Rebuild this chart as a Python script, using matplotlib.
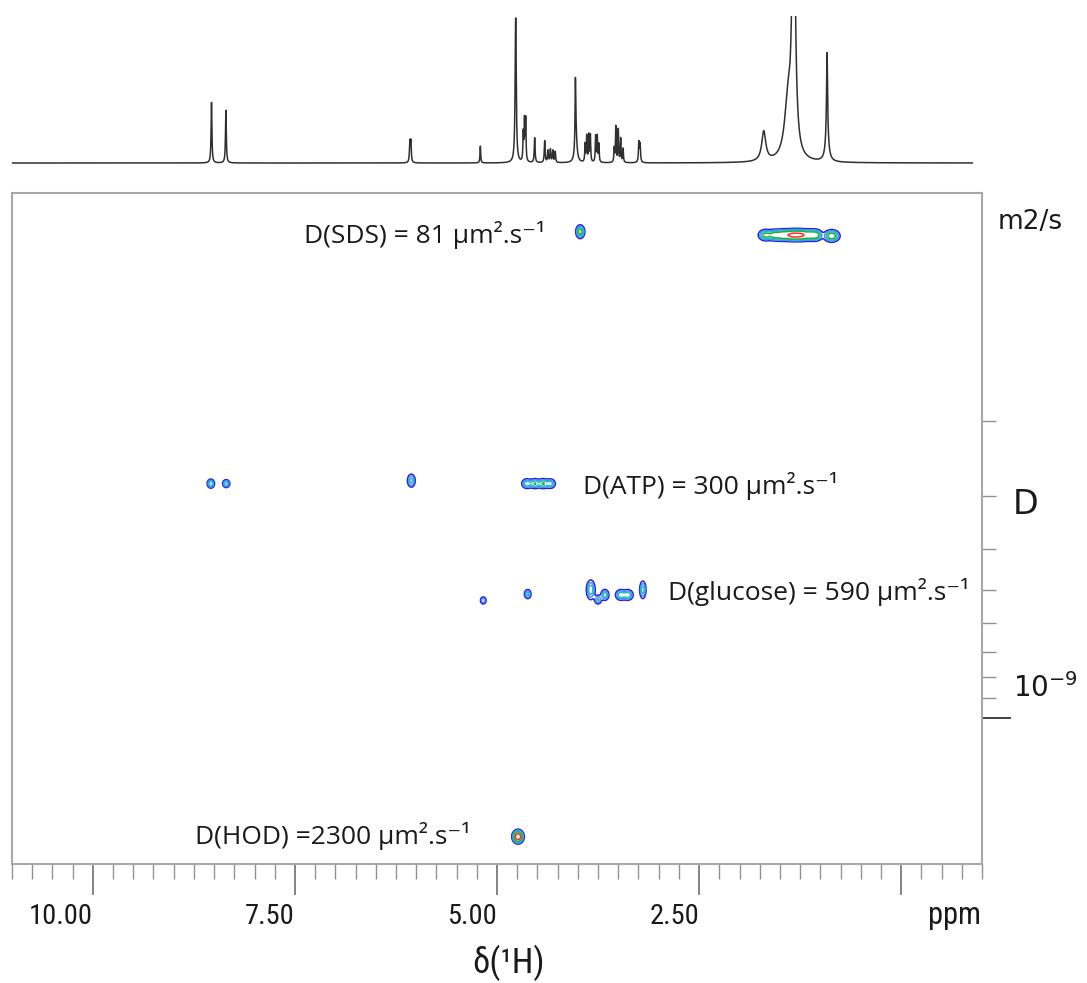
import numpy as np
import matplotlib
matplotlib.use("Agg")
import matplotlib.pyplot as plt
from matplotlib.ticker import FixedLocator, MultipleLocator, NullFormatter, FixedFormatter

# ---------------- data ----------------
# 1D projection: peak positions (ppm), heights (arb.), half-widths (ppm)
peak_ppm = [8.532, 8.354, 6.078, 6.066, 5.206, 4.769,
            4.675, 4.660, 4.645, 4.534, 4.410,
            4.37, 4.34, 4.31, 4.28,
            4.030, 4.024,
            3.91, 3.89, 3.865, 3.845, 3.78, 3.76, 3.74,
            3.55, 3.53, 3.50, 3.47, 3.44,
            3.245, 3.230,
            1.70, 1.40, 1.33, 0.917, 0.917]
peak_height = [61, 53, 20, 20, 17, 146,
               28, 40, 42, 25, 22,
               12, 13, 12, 11,
               62, 28,
               18, 26, 27, 27, 26, 26, 18,
               14, 36, 33, 24, 14,
               20, 18,
               30, 55, 300, 82, 28]
peak_width = [0.006, 0.006, 0.006, 0.006, 0.005, 0.008,
              0.005, 0.005, 0.005, 0.006, 0.006,
              0.006, 0.006, 0.006, 0.006,
              0.005, 0.015,
              0.005, 0.005, 0.005, 0.005, 0.005, 0.005, 0.005,
              0.005, 0.005, 0.005, 0.005, 0.005,
              0.006, 0.006,
              0.030, 0.050, 0.022, 0.007, 0.022]

# DOSY cross peaks: ppm, log10(D / m2 s-1), ppm width, logD width, amplitude
dosy_ppm = [3.97, 1.68, 1.56, 1.45, 1.34, 1.24, 1.13, 1.05, 0.86,
            8.54, 8.35, 6.06, 4.63, 4.53, 4.43, 4.34,
            5.17, 4.62, 3.84, 3.75, 3.665, 3.47, 3.38, 3.196,
            4.74]
dosy_logD = [-10.144, -10.136, -10.136, -10.136, -10.136, -10.136, -10.136, -10.136, -10.134,
             -9.551, -9.551, -9.558, -9.551, -9.551, -9.551, -9.551,
             -9.276, -9.291, -9.301, -9.278, -9.289, -9.289, -9.289, -9.301,
             -8.720]
dosy_sx = [0.028, 0.045, 0.05, 0.05, 0.05, 0.05, 0.05, 0.04, 0.05,
           0.025, 0.025, 0.028, 0.035, 0.035, 0.035, 0.035,
           0.022, 0.024, 0.03, 0.025, 0.028, 0.035, 0.035, 0.022,
           0.032]
dosy_sy = [0.008, 0.0068, 0.0068, 0.0068, 0.0068, 0.0068, 0.0068, 0.0068, 0.0072,
           0.0058, 0.0052, 0.0088, 0.0062, 0.0062, 0.0062, 0.0062,
           0.0052, 0.0062, 0.0125, 0.0062, 0.0072, 0.0068, 0.0068, 0.0115,
           0.0072]
dosy_amp = [0.8, 0.7, 0.8, 1.0, 1.3, 1.2, 0.9, 0.7, 0.9,
            0.55, 0.5, 0.45, 0.55, 0.6, 0.6, 0.5,
            0.35, 0.45, 0.55, 0.4, 0.5, 0.55, 0.55, 0.5,
            2.0]

contour_levels = [0.1, 0.22, 0.38, 0.6, 1.25]
contour_colors = ['#2222dd', '#4a8cf0', '#20c0c0', '#22b040', '#ff2a2a']

x_major = [10.0, 7.5, 5.0, 2.5, 0.0]
x_major_labels = ['10.00', '7.50', '5.00', '2.50', '']
d_minor = [2e-10, 3e-10, 4e-10, 5e-10, 6e-10, 7e-10, 8e-10, 9e-10]
d_major = [1e-9]

labels = ['D(SDS) = 81 µm².s⁻¹', 'D(ATP) = 300 µm².s⁻¹',
          'D(glucose) = 590 µm².s⁻¹', 'D(HOD) =2300 µm².s⁻¹']
label_px = [(304, 235), (583, 486), (668, 592), (195, 836)]

# ---------------- figure ----------------
W, H = 1087, 983
fig = plt.figure(figsize=(W / 100, H / 100), dpi=100)

def fx(px):
    return px / W

def fy(py):
    return 1 - py / H

xlim = (11.0, -1.0)
ylim = (2.21e-9, 5.82e-11)
txtc = '#1a1a1a'
tickfont = ['Liberation Sans Narrow', 'Roboto Condensed', 'Open Sans Condensed',
            'DejaVu Sans Condensed', 'Liberation Sans']

# main DOSY axes
ax = fig.add_axes([fx(12), fy(864), fx(982) - fx(12), fy(193) - fy(864)])
ax.set_xlim(*xlim)
ax.set_yscale('log')
ax.set_ylim(*ylim)

gx = np.linspace(11.0, -1.0, 2400)
gy = np.linspace(np.log10(5.82e-11), np.log10(2.21e-9), 1400)
GX, GY = np.meshgrid(gx, gy)
Z = np.zeros_like(GX)
for p, l, sx, sy, a in zip(dosy_ppm, dosy_logD, dosy_sx, dosy_sy, dosy_amp):
    Z += a * np.exp(-((GX - p) ** 2 / (2 * sx ** 2) + (GY - l) ** 2 / (2 * sy ** 2)))
ax.contour(GX, 10 ** GY, Z, levels=contour_levels, colors=contour_colors, linewidths=1.1)

for s in ax.spines.values():
    s.set_color('#a8a8a8')
    s.set_linewidth(1.5)

# x axis
ax.xaxis.set_major_locator(FixedLocator(x_major))
ax.xaxis.set_major_formatter(FixedFormatter(x_major_labels))
ax.xaxis.set_minor_locator(MultipleLocator(0.25))
ax.tick_params(axis='x', which='major', length=22, width=1.2, color='#707070',
               labelsize=20.5, pad=6, labelcolor=txtc)
ax.tick_params(axis='x', which='minor', length=11, width=1.0, color='#909090')
for t in ax.get_xticklabels():
    t.set_fontfamily(tickfont)
    t.set_fontstretch('condensed')
    t.set_horizontalalignment('right')

# right D axis (log)
ax.yaxis.tick_right()
ax.yaxis.set_major_locator(FixedLocator(d_major))
ax.yaxis.set_major_formatter(FixedFormatter(['']))
ax.yaxis.set_minor_locator(FixedLocator(d_minor))
ax.yaxis.set_minor_formatter(NullFormatter())
ax.tick_params(axis='y', which='major', length=21, width=1.3, color='#333333')
ax.tick_params(axis='y', which='minor', length=10, width=1.0, color='#909090')
ax.tick_params(axis='y', which='both', left=False)

fig.text(fx(981), fy(915), 'ppm', fontsize=22, color=txtc, ha='right', va='center',
         family=tickfont, fontstretch='condensed')
fig.text(fx(508), fy(963), 'δ(¹H)', fontsize=25, color=txtc, ha='center', va='center',
         family=tickfont, fontstretch='condensed')
fig.text(fx(998), fy(222), 'm2/s', fontsize=19, color=txtc, ha='left', va='center')
fig.text(fx(1013), fy(505), 'D', fontsize=24, color=txtc, ha='left', va='center')
fig.text(fx(1013), fy(688), '$10^{-9}$', fontsize=20, color=txtc, ha='left', va='center')

for txt, (px, py) in zip(labels, label_px):
    fig.text(fx(px), fy(py), txt, fontsize=19, color=txtc, ha='left', va='center',
             family=['Open Sans', 'DejaVu Sans'])

# top 1D projection
ax1 = fig.add_axes([fx(12), fy(165), fx(982) - fx(12), fy(16) - fy(165)])
ppm = np.linspace(11.0, -0.88, 14000)
spec = np.zeros_like(ppm)
for p0, h0, w0 in zip(peak_ppm, peak_height, peak_width):
    spec += h0 * w0 ** 2 / ((ppm - p0) ** 2 + w0 ** 2)
ax1.plot(ppm, spec, color='#303030', lw=1.1)
ax1.set_xlim(*xlim)
ax1.set_ylim(-2.0, 148)
ax1.axis('off')

fig.savefig('out.png', dpi=100)
